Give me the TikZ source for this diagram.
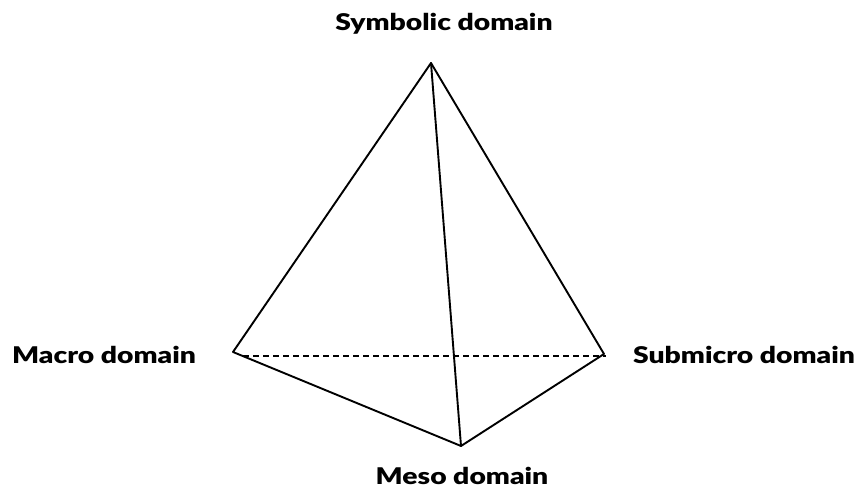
\documentclass[tikz,border=0pt]{standalone}
\usepackage{fontspec}
\setmainfont{Lato}[BoldFont={Lato Black}]
\begin{document}
\begin{tikzpicture}[x=1pt,y=-1pt,
  edge/.style={line width=1.9pt, line cap=round, line join=round},
  hidden/.style={line width=2.2pt, dash pattern=on 6pt off 4pt},
  lbl/.style={font=\fontsize{23}{27}\selectfont\bfseries, inner sep=0pt, xscale=1.23}]
\useasboundingbox (0,0) rectangle (857,489);
\coordinate (T) at (431,63);
\coordinate (L) at (233,352);
\coordinate (R) at (604,354);
\coordinate (B) at (461,446);
\coordinate (Ld) at (243,356);
\coordinate (Rd) at (606,356);
\draw[edge] (L) -- (T) -- (R) -- (B) -- cycle;
\draw[edge] (T) -- (B);
\draw[hidden] (Ld) -- (Rd);
\node[lbl] (sym) at (444,24) {Symbolic domain};
\node[lbl] (mac) at (104,355) {Macro domain};
\node[lbl] (sub) at (744,355) {Submicro domain};
\node[lbl] (mes) at (462,476) {Meso domain};
\end{tikzpicture}
\end{document}
